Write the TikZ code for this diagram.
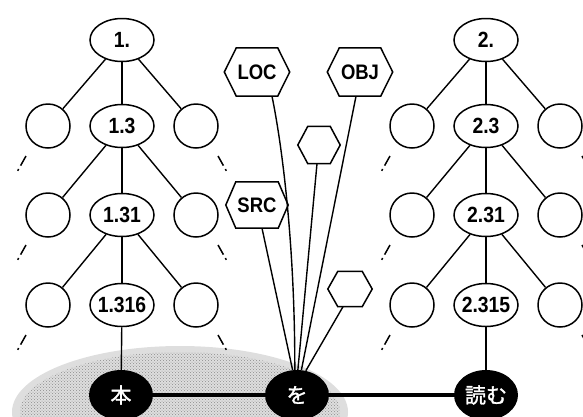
\documentclass[tikz,border=0pt]{standalone}
\usepackage{fontspec}
\setmainfont{Liberation Sans}[FakeStretch=0.88]
\newfontfamily\jp[FakeBold=1.5]{Noto Sans CJK JP}
\usetikzlibrary{shapes.geometric,patterns}
\newcommand\hexpath[2]{%
  \draw[hline] (#1.west) -- ([xshift=#2]#1.north west) -- ([xshift=-#2]#1.north east)
    -- (#1.east) -- ([xshift=-#2]#1.south east) -- ([xshift=#2]#1.south west) -- cycle;}
\begin{document}
\begin{tikzpicture}[x=1pt,y=-1pt,
  lab/.style={font=\bfseries\fontsize{22}{22}\selectfont},
  ell/.style={draw, ellipse, line width=1.5pt, minimum width=64pt, minimum height=43pt, inner sep=0pt},
  circ/.style={draw, circle, line width=1.5pt, minimum size=44pt, inner sep=0pt},
  blk/.style={fill=black, ellipse, minimum width=64pt, minimum height=50pt, inner sep=0pt},
  blab/.style={text=white, font=\jp\fontsize{21}{21}\selectfont},
  hexn/.style={rectangle, inner sep=0pt, font=\bfseries\fontsize{21}{21}\selectfont},
  hline/.style={line width=1.5pt, line join=miter},
  tline/.style={line width=1.4pt},
  thick line/.style={line width=3.5pt},
  dline/.style={line width=1.5pt, dash pattern=on 11pt off 4pt on 2pt off 20pt}
]
\useasboundingbox (0,0) rectangle (583,416);
\clip (0,0) rectangle (583,416);
% stippled gray ground
\fill[black!13] (180,412) ellipse [x radius=168pt, y radius=66pt];
\fill[pattern=crosshatch dots, pattern color=black!45] (180,412) ellipse [x radius=160pt, y radius=60pt];

% trees
\foreach \p/\cx/\la/\lb/\lc/\ld in {a/122/1./1.3/1.31/1.316, b/486/2./2.3/2.31/2.315} {
  \node[ell, label={[lab]center:\la}] (\p0) at (\cx,40) {};
  \node[ell, label={[lab]center:\lb}] (\p1) at (\cx,126) {};
  \node[ell, label={[lab]center:\lc}] (\p2) at (\cx,215) {};
  \node[ell, label={[lab]center:\ld}] (\p3) at (\cx,305) {};
  \foreach \i/\y in {1/126,2/215,3/305} {
    \pgfmathtruncatemacro\j{\i-1}
    \node[circ] (\p L\i) at (\cx-74,\y) {};
    \node[circ] (\p R\i) at (\cx+74,\y) {};
    \draw[tline] (\p\j) -- (\p L\i);
    \draw[tline] (\p\j) -- (\p\i);
    \draw[tline] (\p\j) -- (\p R\i);
    \draw[dline] ([shift={(-22,30)}]\p L\i.center) -- ([shift={(-31,46)}]\p L\i.center);
    \draw[dline] ([shift={(22,30)}]\p R\i.center) -- ([shift={(31,46)}]\p R\i.center);
  }
}

% black nodes
\node[blk, label={[blab]center:本}] (hon) at (121,395) {};
\node[blk, label={[blab]center:を}] (wo) at (297,395) {};
\node[blk, label={[blab]center:読む}] (yomu) at (486,395) {};
\draw[thick line] (hon.east) -- (wo.west);
\draw[thick line] (wo.east) -- (yomu.west);
\draw[tline] (a3) -- (hon);
\draw[tline] (b3) -- (yomu);

% case hexagons
\node[hexn, minimum width=65pt, minimum height=48pt] (loc) at (257,72) {LOC};
\node[hexn, minimum width=65pt, minimum height=48pt] (obj) at (360,72) {OBJ};
\node[hexn, minimum width=42pt, minimum height=37pt] (h1) at (319,145) {};
\node[hexn, minimum width=62pt, minimum height=46pt] (src) at (257,205) {SRC};
\node[hexn, minimum width=44pt, minimum height=35pt] (h2) at (350,289) {};
\hexpath{loc}{12pt}
\hexpath{obj}{12pt}
\hexpath{h1}{10pt}
\hexpath{src}{10pt}
\hexpath{h2}{10pt}

\draw[tline] ([xshift=5pt]src.south) -- (wo.100);
\draw[tline] ([xshift=15pt]loc.south) .. controls (283,150) and (295,250) .. (wo.95);
\draw[tline] ([xshift=-2pt]h1.south) -- (wo.88);
\draw[tline] ([xshift=-4pt]obj.south) -- (wo.80);
\draw[tline] ([xshift=-7pt]h2.south) -- (wo.70);
\end{tikzpicture}
\end{document}
